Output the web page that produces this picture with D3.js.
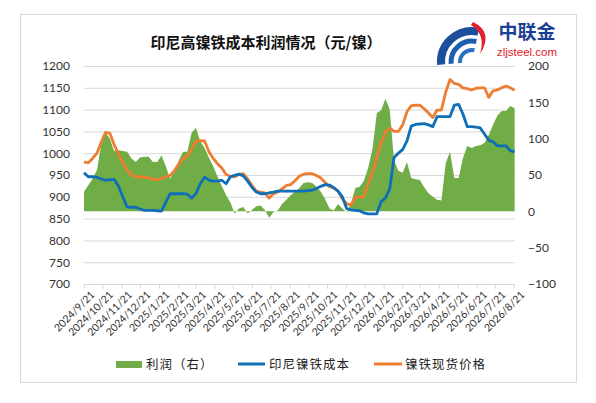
<!DOCTYPE html>
<html><head><meta charset="utf-8">
<script src="https://cdn.jsdelivr.net/npm/d3@7/dist/d3.min.js"></script>
<style>
html,body{margin:0;padding:0;background:#fff;}
svg{display:block;}
</style></head>
<body>
<svg id="c" width="596" height="403"></svg>
<script>
const dates = ["2024-09-21","2024-09-28","2024-10-05","2024-10-12","2024-10-19","2024-10-26","2024-11-02","2024-11-09","2024-11-16","2024-11-23","2024-11-30","2024-12-07","2024-12-14","2024-12-21","2024-12-28",
"2025-01-04","2025-01-11","2025-01-18","2025-01-25","2025-02-01","2025-02-08","2025-02-15","2025-02-22","2025-03-01","2025-03-08","2025-03-15","2025-03-22","2025-03-29","2025-04-05","2025-04-12","2025-04-19","2025-04-26","2025-05-03","2025-05-10","2025-05-17","2025-05-24","2025-05-31","2025-06-07","2025-06-14","2025-06-21","2025-06-28","2025-07-05","2025-07-12","2025-07-19","2025-07-26","2025-08-02","2025-08-09","2025-08-16","2025-08-23","2025-08-30","2025-09-06","2025-09-13","2025-09-20","2025-09-27","2025-10-04","2025-10-11","2025-10-18","2025-10-25","2025-11-01","2025-11-08","2025-11-15","2025-11-22","2025-11-29","2025-12-06","2025-12-13","2025-12-20","2025-12-27",
"2026-01-03","2026-01-10","2026-01-17","2026-01-24","2026-01-31","2026-02-07","2026-02-14","2026-02-21","2026-02-28","2026-03-07","2026-03-14","2026-03-21","2026-03-28","2026-04-04","2026-04-11","2026-04-18","2026-04-25","2026-05-02","2026-05-09","2026-05-16","2026-05-23","2026-05-30","2026-06-06","2026-06-13","2026-06-20","2026-06-27","2026-07-04","2026-07-11","2026-07-18","2026-07-25","2026-08-01","2026-08-08","2026-08-15","2026-08-22"];

// 利润（右）
const profit = [27,36,45,57,92,109,100,83,84,83,82,73,68,74,75,75,68,68,77,62,45,55,70,82,82,108,115,96,87,74,62,48,35,22,12,-3,4,6,-3,2,7,8,2,-9,-1,1,10,16,22,27,32,39,40,39,34,27,17,4,1,10,4,-1,10,32,34,42,60,86,135,139,155,140,70,56,53,68,46,44,43,33,25,20,16,15,66,82,46,46,73,90,87,90,91,94,105,119,132,138,138,145,142];
// 印尼镍铁成本
const cost = [955,946,946,945,941,938,939,940,925,900,877,876,876,872,869,869,869,868,867,888,907,907,907,907,906,897,908,930,945,938,936,936,938,930,946,949,952,948,936,922,911,907,907,909,911,913,913,913,913,913,913,913,914,915,919,924,928,927,921,913,900,873,870,869,868,863,861,861,861,889,897,918,990,1000,1008,1028,1062,1066,1067,1068,1065,1061,1084,1084,1084,1084,1110,1112,1090,1061,1061,1060,1058,1044,1030,1026,1017,1017,1017,1006,1003];
// 镍铁现货价格
const price = [980,978,988,1000,1025,1048,1046,1020,998,978,962,950,946,946,945,944,940,939,942,946,949,960,975,988,993,1010,1027,1029,1028,1004,988,976,966,951,947,946,951,953,941,926,913,911,909,897,907,911,918,926,928,937,947,952,953,953,949,943,933,923,920,913,895,884,881,899,899,901,930,956,990,1024,1048,1058,1050,1050,1065,1095,1109,1110,1110,1102,1092,1082,1099,1099,1140,1169,1160,1158,1150,1148,1145,1149,1150,1150,1128,1143,1145,1150,1154,1150,1144];

const xTickLabels = ["2024/9/21","2024/10/21","2024/11/21","2024/12/21","2025/1/21","2025/2/21","2025/3/21","2025/4/21","2025/5/21","2025/6/21","2025/7/21","2025/8/21","2025/9/21","2025/10/21","2025/11/21","2025/12/21","2026/1/21","2026/2/21","2026/3/21","2026/4/21","2026/5/21","2026/6/21","2026/7/21","2026/8/21"];
const leftTicks = [700,750,800,850,900,950,1000,1050,1100,1150,1200];
const rightTicks = [-100,-50,0,50,100,150,200];
const title = "印尼高镍铁成本利润情况（元/镍）";
const legendNames = ["利润（右）","印尼镍铁成本","镍铁现货价格"];

const GREEN = "#70AD47", BLUE = "#0E6EB8", ORANGE = "#ED7D31";
const svg = d3.select("#c");
const parseD = d3.timeParse("%Y-%m-%d");
const parseT = d3.timeParse("%Y/%m/%d");
const data = dates.map((d,i)=>({d:parseD(d), p:profit[i], c:cost[i], v:price[i]}));

const L = 84, R = 514, T = 66, B = 284;
const x = d3.scaleTime().domain([parseT("2024/9/21"), parseT("2026/8/21")]).range([L, R]);
const yL = d3.scaleLinear().domain([700,1200]).range([B, T]);
const yR = d3.scaleLinear().domain([-100,200]).range([B, T]);

// frame
svg.append("rect").attr("x",20.5).attr("y",14.5).attr("width",556).attr("height",368)
  .attr("fill","#fff").attr("stroke","#d9d9d9");

// title
svg.append("text").attr("x",266).attr("y",48).attr("text-anchor","middle")
  .attr("font-family","'Noto Sans CJK SC'").attr("font-weight","bold").attr("font-size",15)
  .attr("fill","#111").text(title);

// logo
const cx0 = 472, cy0 = 62;
const arcP = (r)=>{
  const a0 = 175*Math.PI/180, a1 = 282*Math.PI/180;
  const p0 = [cx0 + r*Math.cos(a0), cy0 + r*Math.sin(a0)];
  const p1 = [cx0 + r*Math.cos(a1), cy0 + r*Math.sin(a1)];
  return `M${p0[0]},${p0[1]} A${r},${r} 0 0 1 ${p1[0]},${p1[1]}`;
};
[[31,8,"#1b4f9c"],[21,5,"#1d5fae"],[12,4,"#2a72c0"]].forEach(([r,w,c])=>{
  svg.append("path").attr("d",arcP(r)).attr("fill","none").attr("stroke",c).attr("stroke-width",w);
});
svg.append("path").attr("d","M473,22 Q494,32 480,54 Q486,34 471,25 Z").attr("fill","#e0202a");
svg.append("text").attr("x",527).attr("y",39).attr("text-anchor","middle")
  .attr("font-family","'Noto Sans CJK SC'").attr("font-weight","bold").attr("font-size",19)
  .attr("fill","#1b3f94").text("中联金");
svg.append("text").attr("x",527).attr("y",56).attr("text-anchor","middle")
  .attr("font-family","'Liberation Sans'").attr("font-size",11.5)
  .attr("fill","#e0202a").text("zljsteel.com");

// gridlines
svg.append("g").selectAll("line").data(leftTicks.slice(1)).join("line")
  .attr("x1",L).attr("x2",R+1).attr("y1",d=>yL(d)+0.5).attr("y2",d=>yL(d)+0.5)
  .attr("stroke","#d9d9d9").attr("stroke-width",1);

// profit area
const area = d3.area().x(d=>x(d.d)).y0(yR(0)).y1(d=>yR(d.p));
svg.append("path").datum(data).attr("d",area).attr("fill",GREEN);

// lines
const lineC = d3.line().x(d=>x(d.d)).y(d=>yL(d.c));
const lineV = d3.line().x(d=>x(d.d)).y(d=>yL(d.v));
svg.append("path").datum(data).attr("d",lineV).attr("fill","none").attr("stroke",ORANGE)
  .attr("stroke-width",2.8).attr("stroke-linejoin","round");
svg.append("path").datum(data).attr("d",lineC).attr("fill","none").attr("stroke",BLUE)
  .attr("stroke-width",2.8).attr("stroke-linejoin","round");

// bottom axis
const tickDates = xTickLabels.map(parseT);
const xAxis = d3.axisBottom(x).tickValues(tickDates).tickSize(4).tickFormat((d,i)=>xTickLabels[i]);
const gx = svg.append("g").attr("transform",`translate(0,${B+0.5})`).call(xAxis);
gx.select(".domain").attr("stroke","#d9d9d9").attr("d",`M${L},0H${R+1}`);
gx.selectAll(".tick line").attr("stroke","#d9d9d9");
gx.selectAll(".tick text").attr("font-family","Lato").attr("font-size",10.5).attr("fill","#333")
  .attr("text-anchor","end").attr("transform","translate(4,4) rotate(-45)").attr("dy","0.35em").attr("y",6).attr("x",0);

// left axis
const gl = svg.append("g").attr("transform",`translate(${L},0)`)
  .call(d3.axisLeft(yL).tickValues(leftTicks).tickSize(0).tickPadding(14).tickFormat(d3.format("d")));
gl.select(".domain").remove();
gl.selectAll("text").attr("font-family","Lato").attr("font-size",12).attr("fill","#333");

// right axis
const gr = svg.append("g").attr("transform",`translate(${R},0)`)
  .call(d3.axisRight(yR).tickValues(rightTicks).tickSize(0).tickPadding(14).tickFormat(d3.format("d")));
gr.select(".domain").remove();
gr.selectAll("text").attr("font-family","Lato").attr("font-size",12).attr("fill","#333");

// legend
const lgY = 364;
const leg = svg.append("g");
leg.append("rect").attr("x",116).attr("y",lgY-3).attr("width",26).attr("height",7).attr("fill",GREEN);
leg.append("line").attr("x1",238).attr("x2",265).attr("y1",lgY).attr("y2",lgY).attr("stroke",BLUE).attr("stroke-width",3);
leg.append("line").attr("x1",374).attr("x2",402).attr("y1",lgY).attr("y2",lgY).attr("stroke",ORANGE).attr("stroke-width",3);
[[146,0],[269,1],[405,2]].forEach(([lx,i])=>{
  leg.append("text").attr("x",lx).attr("y",lgY).attr("dy","0.36em")
    .attr("font-family","'Noto Sans CJK SC'").attr("font-size",12.5).attr("fill","#222")
    .attr("letter-spacing","1px").text(legendNames[i]);
});
</script>
</body></html>
